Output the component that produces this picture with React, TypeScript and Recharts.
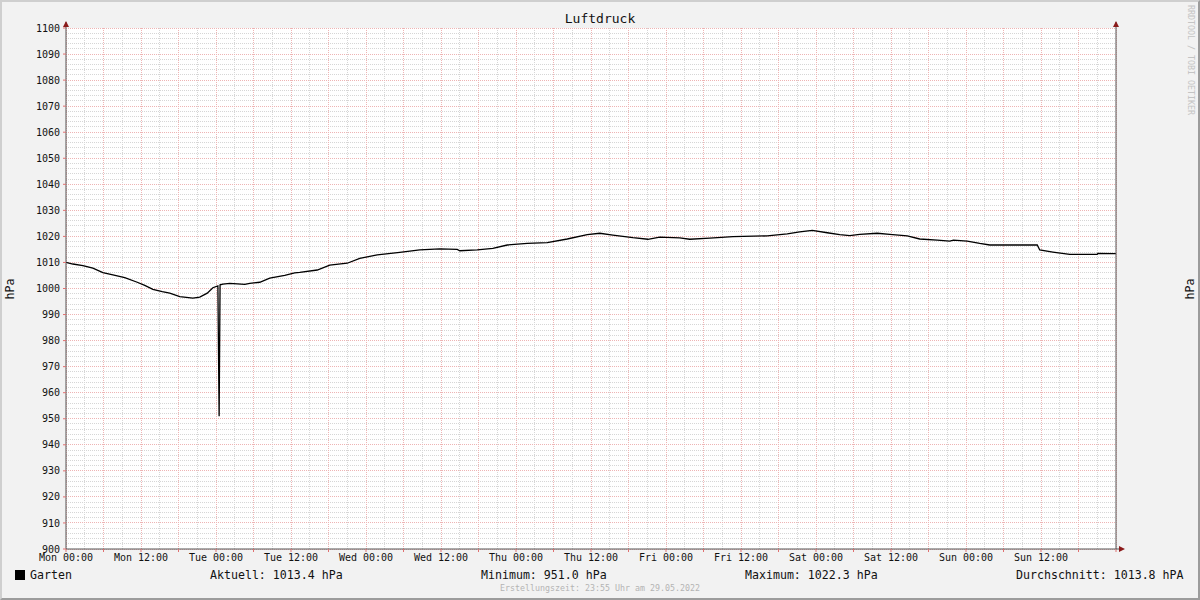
import { CartesianGrid, Line, LineChart, XAxis, YAxis } from "recharts";

// hours since Mon 00:00 and pressure readings (hPa)
const hours = [
  0, 1.1, 2.7, 4.3, 5.9, 7.5, 9.4, 11.4, 12.6, 13.9, 15.4, 16.6, 18.2, 20.3, 21.4, 22.6, 23.5,
  24.3, 24.5, 24.65, 25.1, 26.2, 28.6, 29.4, 31.0, 32.6, 35.0, 36.6, 37.4, 40.2, 42.2, 45.0,
  47.0, 49.8, 53.4, 56.6, 59.8, 62.6, 63.0, 65.8, 68.3, 70.6, 73.8, 77.0, 80.2, 83.4, 85.4,
  87.5, 90.7, 93.1, 95.0, 98.2, 99.8, 103.0, 106.7, 112.2, 115.4, 117.4, 119.4, 121.8, 123.8,
  125.4, 127.0, 129.8, 131.8, 134.6, 136.6, 139.4, 141.4, 142.0, 144.2, 146.2, 147.8, 155.4,
  155.8, 157.9, 160.6, 165.0, 165.1, 168,
];
const pressure = [
  1010.0, 1009.4, 1008.8, 1007.8, 1006.1, 1005.2, 1004.2, 1002.4, 1001.2, 999.7, 998.8, 998.2,
  996.9, 996.3, 996.7, 998.2, 1000.3, 1001.0, 951.0, 1001.4, 1001.7, 1002.0, 1001.6, 1002.0,
  1002.4, 1004.0, 1005.0, 1006.0, 1006.2, 1007.1, 1009.0, 1009.7, 1011.6, 1012.9, 1013.9,
  1014.8, 1015.2, 1015.0, 1014.5, 1014.8, 1015.4, 1016.7, 1017.3, 1017.6, 1019.0, 1020.7,
  1021.2, 1020.5, 1019.5, 1018.9, 1019.7, 1019.4, 1018.9, 1019.3, 1019.9, 1020.2, 1021.0,
  1021.7, 1022.3, 1021.4, 1020.7, 1020.3, 1020.8, 1021.2, 1020.8, 1020.2, 1019.0, 1018.6,
  1018.2, 1018.6, 1018.2, 1017.3, 1016.7, 1016.7, 1014.8, 1014.0, 1013.1, 1013.1, 1013.5,
  1013.4,
];

const xTickLabels = [
  "Mon 00:00", "Mon 12:00", "Tue 00:00", "Tue 12:00", "Wed 00:00", "Wed 12:00", "Thu 00:00",
  "Thu 12:00", "Fri 00:00", "Fri 12:00", "Sat 00:00", "Sat 12:00", "Sun 00:00", "Sun 12:00",
];

const seriesName = "Garten";
const statCurrent = "Aktuell: 1013.4 hPa";
const statMin = "Minimum: 951.0 hPa";
const statMax = "Maximum: 1022.3 hPa";
const statAvg = "Durchschnitt: 1013.8 hPA";

const data = hours.map((h, i) => ({ h, value: pressure[i] }));

const range = (from: number, to: number, step: number) => {
  const out: number[] = [];
  for (let v = from; v <= to + 1e-9; v += step) out.push(v);
  return out;
};

const yTicks = range(900, 1100, 10);
const yMinor = range(900, 1100, 2);
const xTicks = range(0, 168, 6);
const xMinor = range(0, 168, 3);

const MONO = "'DejaVu Sans Mono', monospace";
const AXIS = "#555";
const ARROW = "#8b1a1a";

const textStyle = (left: number, top: number, size: number, color = "#111") => ({
  position: "absolute" as const,
  left,
  top,
  fontFamily: MONO,
  fontSize: size,
  lineHeight: `${size + 1}px`,
  color,
  whiteSpace: "nowrap" as const,
});

export default function App() {
  return (
    <div style={{ position: "relative", width: 1200, height: 600, background: "#f2f2f2" }}>
      <style>{"body{margin:0}"}</style>
      <LineChart
        width={1200}
        height={600}
        data={data}
        margin={{ top: 28, right: 0, bottom: 31, left: 0 }}
        style={{ position: "absolute", left: 0, top: 0 }}
      >
        <CartesianGrid
          yAxisId="left"
          fill="#ffffff"
          stroke="#d6d6d6"
          strokeDasharray="1 1"
          shapeRendering="crispEdges"
          horizontalValues={yMinor}
          verticalValues={xMinor}
        />
        <CartesianGrid
          yAxisId="left"
          stroke="#eeb4b4"
          strokeDasharray="1 1"
          shapeRendering="crispEdges"
          horizontalValues={yTicks}
          verticalValues={xTicks}
        />
        <XAxis
          dataKey="h"
          type="number"
          domain={[0, 168]}
          ticks={xTicks}
          interval={0}
          height={20}
          axisLine={{ stroke: AXIS }}
          tickLine={{ stroke: "#e07070" }}
          tickSize={3}
          tickMargin={2}
          tick={{ fontFamily: MONO, fontSize: 10, fill: "#111" }}
          tickFormatter={(h: number) =>
            h % 12 === 0 && h / 12 < xTickLabels.length ? xTickLabels[h / 12] : ""
          }
        />
        <YAxis
          yAxisId="left"
          type="number"
          domain={[900, 1100]}
          ticks={yTicks}
          interval={0}
          width={66}
          axisLine={{ stroke: AXIS }}
          tickLine={{ stroke: "#e07070" }}
          tickSize={3}
          tickMargin={3}
          tick={{ fontFamily: MONO, fontSize: 10, fill: "#111" }}
        />
        <YAxis
          yAxisId="right"
          orientation="right"
          type="number"
          domain={[900, 1100]}
          ticks={yTicks}
          interval={0}
          width={84}
          axisLine={{ stroke: AXIS }}
          tickLine={{ stroke: "#e07070" }}
          tickSize={3}
          tickMargin={6}
          tick={{ fontFamily: MONO, fontSize: 10, fill: "#111" }}
        />
        <Line
          yAxisId="left"
          dataKey="value"
          type="linear"
          stroke="#000"
          strokeWidth={1.3}
          dot={false}
          isAnimationActive={false}
        />
      </LineChart>

      <svg
        width={1200}
        height={600}
        style={{ position: "absolute", left: 0, top: 0, pointerEvents: "none" }}
      >
        <line x1={66} y1={22} x2={66} y2={28} stroke={AXIS} />
        <line x1={1116} y1={22} x2={1116} y2={28} stroke={AXIS} />
        <line x1={1116} y1={549} x2={1121} y2={549} stroke={AXIS} />
        <polygon points="63,27 69,27 66,21" fill={ARROW} />
        <polygon points="1113,27 1119,27 1116,21" fill={ARROW} />
        <polygon points="1119,546 1119,552 1125,549" fill={ARROW} />
      </svg>

      <div style={{ ...textStyle(0, 12, 13), width: 1200, textAlign: "center" }}>Luftdruck</div>

      <div
        style={{
          ...textStyle(10, 289, 11.6),
          transform: "translate(-50%, -50%) rotate(-90deg)",
        }}
      >
        hPa
      </div>
      <div
        style={{
          ...textStyle(1190, 289, 11.6),
          transform: "translate(-50%, -50%) rotate(-90deg)",
        }}
      >
        hPa
      </div>
      <div
        style={{
          ...textStyle(1190, 60, 8.3, "#c4c4c4"),
          transform: "translate(-50%, -50%) rotate(90deg)",
        }}
      >
        RRDTOOL / TOBI OETIKER
      </div>

      <div style={{ position: "absolute", left: 15, top: 570, width: 10, height: 10, background: "#000" }} />
      <div style={textStyle(30, 569, 11.6)}>{seriesName}</div>
      <div style={textStyle(210, 569, 11.6)}>{statCurrent}</div>
      <div style={textStyle(481, 569, 11.6)}>{statMin}</div>
      <div style={textStyle(745, 569, 11.6)}>{statMax}</div>
      <div style={textStyle(1016, 569, 11.6)}>{statAvg}</div>
      <div style={{ ...textStyle(0, 584, 8.3, "#b4b4b4"), width: 1200, textAlign: "center" }}>
        Erstellungszeit: 23:55 Uhr am 29.05.2022
      </div>

      <div
        style={{
          position: "absolute",
          left: 0,
          top: 0,
          width: 1200,
          height: 600,
          boxSizing: "border-box",
          borderTop: "2px solid #cfcfcf",
          borderLeft: "2px solid #cfcfcf",
          borderBottom: "2px solid #9c9c9c",
          borderRight: "2px solid #9c9c9c",
          pointerEvents: "none",
        }}
      />
    </div>
  );
}
